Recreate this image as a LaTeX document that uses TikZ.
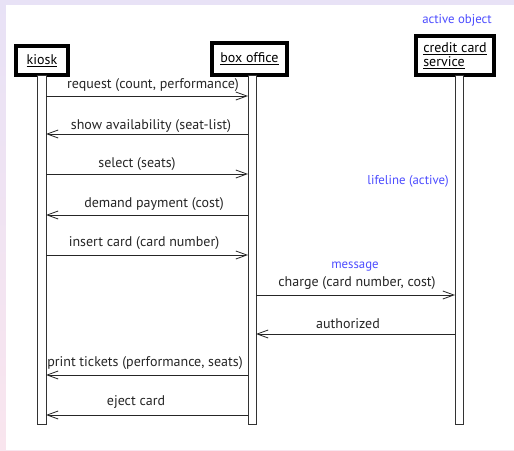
\documentclass[tikz,border=0pt]{standalone}
\usepackage{fontspec}
\setmainfont{PT Sans}
\usetikzlibrary{arrows.meta}
\definecolor{bgtop}{HTML}{E8E2F6}
\definecolor{bgbot}{HTML}{F9E5EE}
\definecolor{note}{HTML}{4D4DFF}
\tikzset{
  obj/.style={draw=black, line width=3.5pt, fill=white, inner sep=3pt, align=left, font=\fontsize{14}{13.5}\selectfont},
  lifeline/.style={draw=black!80, line width=1pt, fill=white},
  msg/.style={draw=black!85, line width=0.9pt, -{Straight Barb[length=11pt,width=8pt,line width=0.8pt]}},
  lbl/.style={font=\fontsize{14}{14}\selectfont, text=black!85, inner sep=0pt},
  annot/.style={font=\fontsize{12.8}{13}\selectfont, text=note, inner sep=0pt}
}
\newcommand{\ul}[1]{\underline{#1}}
\begin{document}
\begin{tikzpicture}[x=1pt,y=-1pt]
\useasboundingbox (0,0) rectangle (514,450);
\shade[top color=bgtop, bottom color=bgbot] (0,0) rectangle (514,450);
\fill[white] (6,5) rectangle (514,450);
% objects
\node[obj, minimum width=52pt, minimum height=29pt] (kiosk) at (42,60.5) {\ul{kiosk}};
\node[obj, minimum width=75pt, minimum height=32pt] (box) at (249.5,59) {\ul{box office}};
\node[obj, minimum width=78pt, minimum height=39pt, inner sep=1pt] (ccs) at (455,55.5) {\ul{credit card}\\[0.5pt]\ul{service}};
% lifelines
\draw[lifeline] (37,75) rectangle (46,424);
\draw[lifeline] (248,75) rectangle (256,424);
\draw[lifeline] (455,75) rectangle (463,424);
% messages
\coordinate (m1a) at (46,96);  \coordinate (m1b) at (248,96);
\coordinate (m2a) at (248,134); \coordinate (m2b) at (46,134);
\coordinate (m3a) at (46,174); \coordinate (m3b) at (248,174);
\coordinate (m4a) at (248,215); \coordinate (m4b) at (46,215);
\coordinate (m5a) at (46,255); \coordinate (m5b) at (248,255);
\coordinate (m6a) at (256,295); \coordinate (m6b) at (455,295);
\coordinate (m7a) at (455,334); \coordinate (m7b) at (256,334);
\coordinate (m8a) at (248,375); \coordinate (m8b) at (46,375);
\coordinate (m9a) at (248,415); \coordinate (m9b) at (46,415);
\draw[msg] (m1a) -- (m1b);
\draw[msg] (m2a) -- (m2b);
\draw[msg] (m3a) -- (m3b);
\draw[msg] (m4a) -- (m4b);
\draw[msg] (m5a) -- (m5b);
\draw[msg] (m6a) -- (m6b);
\draw[msg] (m7a) -- (m7b);
\draw[msg] (m8a) -- (m8b);
\draw[msg] (m9a) -- (m9b);
\node[lbl] (l1) at (153,85) {request (count, performance)};
\node[lbl] (l2) at (151,126) {show availability (seat-list)};
\node[lbl] (l3) at (137,164) {select (seats)};
\node[lbl] (l4) at (154,204) {demand payment (cost)};
\node[lbl] (l5) at (144,243) {insert card (card number)};
\node[lbl] (l6) at (357,283) {charge (card number, cost)};
\node[lbl] (l7) at (348,324) {authorized};
\node[lbl] (l8) at (145,363) {print tickets (performance, seats)};
\node[lbl] (l9) at (136,402) {eject card};
% annotations
\node[annot] (a1) at (457,20) {active object};
\node[annot] (a2) at (408,181) {lifeline (active)};
\node[annot] (a3) at (355,267) {message};
\end{tikzpicture}
\end{document}
